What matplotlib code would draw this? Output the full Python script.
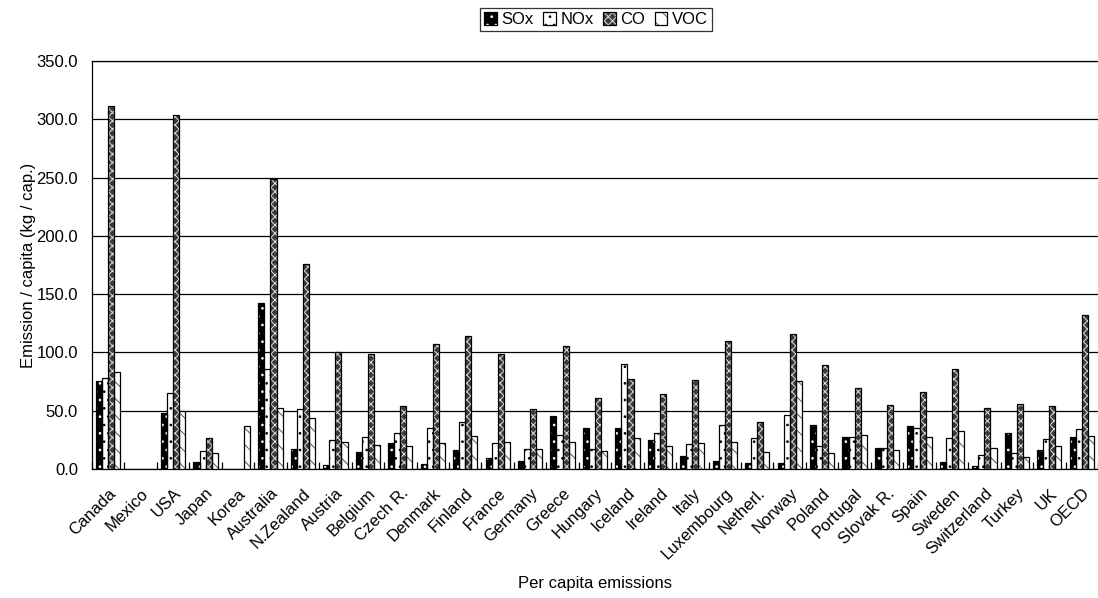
import numpy as np
import matplotlib
matplotlib.use("Agg")
import matplotlib.pyplot as plt
from matplotlib.patches import Patch
from matplotlib.legend_handler import HandlerTuple

plt.rcParams['font.family'] = ['Liberation Sans', 'DejaVu Sans']
plt.rcParams['hatch.linewidth'] = 0.7

countries = ["Canada", "Mexico", "USA", "Japan", "Korea", "Australia", "N.Zealand",
             "Austria", "Belgium", "Czech R.", "Denmark", "Finland", "France",
             "Germany", "Greece", "Hungary", "Iceland", "Ireland", "Italy",
             "Luxembourg", "Netherl.", "Norway", "Poland", "Portugal", "Slovak R.",
             "Spain", "Sweden", "Switzerland", "Turkey", "UK", "OECD"]

nan = np.nan
sox = [75.8, nan, 47.8, 6.3, nan, 142.1, 17.4, 3.7, 14.3, 22.6, 4.0, 16.3, 9.2,
       6.9, 45.5, 35.2, 35.2, 24.9, 11.4, 6.9, 4.9, 4.9, 38.0, 27.7, 18.3,
       37.2, 5.7, 2.6, 30.6, 16.3, 27.7]
nox = [77.8, nan, 65.5, 15.4, nan, 85.8, 51.7, 24.9, 27.7, 30.6, 34.9, 40.0, 22.3,
       17.2, 28.9, 17.2, 90.1, 30.6, 21.4, 38.0, 26.9, 46.0, 20.0, 27.7, 18.3,
       34.9, 26.6, 12.0, 14.0, 25.5, 34.0]
co = [311.7, nan, 303.4, 26.9, nan, 249.1, 176.1, 100.4, 98.7, 53.8, 107.0, 114.1,
      98.7, 51.5, 105.5, 60.9, 77.5, 64.1, 76.4, 109.8, 40.0, 116.1, 88.9, 69.2,
      54.6, 66.1, 85.8, 52.6, 55.8, 53.8, 131.8]
voc = [82.9, nan, 50.0, 13.4, 37.2, 52.6, 43.5, 23.4, 20.3, 19.7, 22.3, 28.6, 23.4,
       17.2, 23.4, 15.2, 26.9, 19.7, 22.3, 23.4, 14.9, 75.5, 14.0, 29.4, 16.0,
       27.7, 32.6, 18.3, 10.0, 19.7, 28.6]

series = ["SOx", "NOx", "CO", "VOC"]
# face colour, hatch colour, hatch pattern
styles = [("black", "white", ".."),
          ("white", "black", ".."),
          ("#3c3c3c", "#e0e0e0", "xxxx"),
          ("white", "#555555", "\\\\")]

fs = 12
fig = plt.figure(figsize=(10.98, 5.98), dpi=100)
ax = fig.add_axes([0.0838, 0.2157, 0.9162, 0.682])

x = np.arange(len(countries))
bw = 0.187
handles = []
for i, (vals, (fc, hc, hp)) in enumerate(zip([sox, nox, co, voc], styles)):
    pos = x + (i - 1.5) * bw
    ax.bar(pos, vals, bw, color=fc, edgecolor=hc, hatch=hp, linewidth=0, zorder=3)
    ax.bar(pos, vals, bw, fill=False, edgecolor="black", linewidth=0.9, zorder=4)
    handles.append((Patch(facecolor=fc, edgecolor=hc, hatch=hp, linewidth=0),
                    Patch(fill=False, edgecolor="black", linewidth=0.9)))

ax.set_xlim(-0.5, len(countries) - 0.5)
ax.set_ylim(0, 350)
ax.set_yticks(np.arange(0, 351, 50))
ax.set_yticklabels([f"{v:.1f}" for v in np.arange(0, 351, 50)], fontsize=fs)
ax.yaxis.grid(True, color="black", linewidth=0.9, zorder=0)
ax.set_axisbelow(True)
ax.tick_params(axis="y", length=0, pad=10)

ax.set_xticks(x)
ax.set_xticklabels(countries, rotation=45, ha="right", rotation_mode="anchor", fontsize=fs)
ax.tick_params(axis="x", length=0, pad=12)
ax.set_xticks(np.arange(-0.5, len(countries)), minor=True)
ax.tick_params(axis="x", which="minor", direction="in", length=5, width=0.9)

ax.spines["right"].set_visible(False)
for s in ["left", "bottom", "top"]:
    ax.spines[s].set_linewidth(0.9)

ax.set_ylabel("Emission / capita (kg / cap.)", fontsize=fs, labelpad=0)
ax.set_xlabel("Per capita emissions", fontsize=fs, labelpad=10)

leg = fig.legend(handles, series, loc="upper center", bbox_to_anchor=(0.543, 0.992),
                 ncol=4, fontsize=fs, frameon=True, fancybox=False,
                 handlelength=0.75, handleheight=0.75, handletextpad=0.3,
                 columnspacing=0.55, borderpad=0.25, borderaxespad=0.2,
                 handler_map={tuple: HandlerTuple(ndivide=1)})
leg.get_frame().set_edgecolor("black")
leg.get_frame().set_linewidth(0.9)

fig.savefig("out.png", dpi=100)
